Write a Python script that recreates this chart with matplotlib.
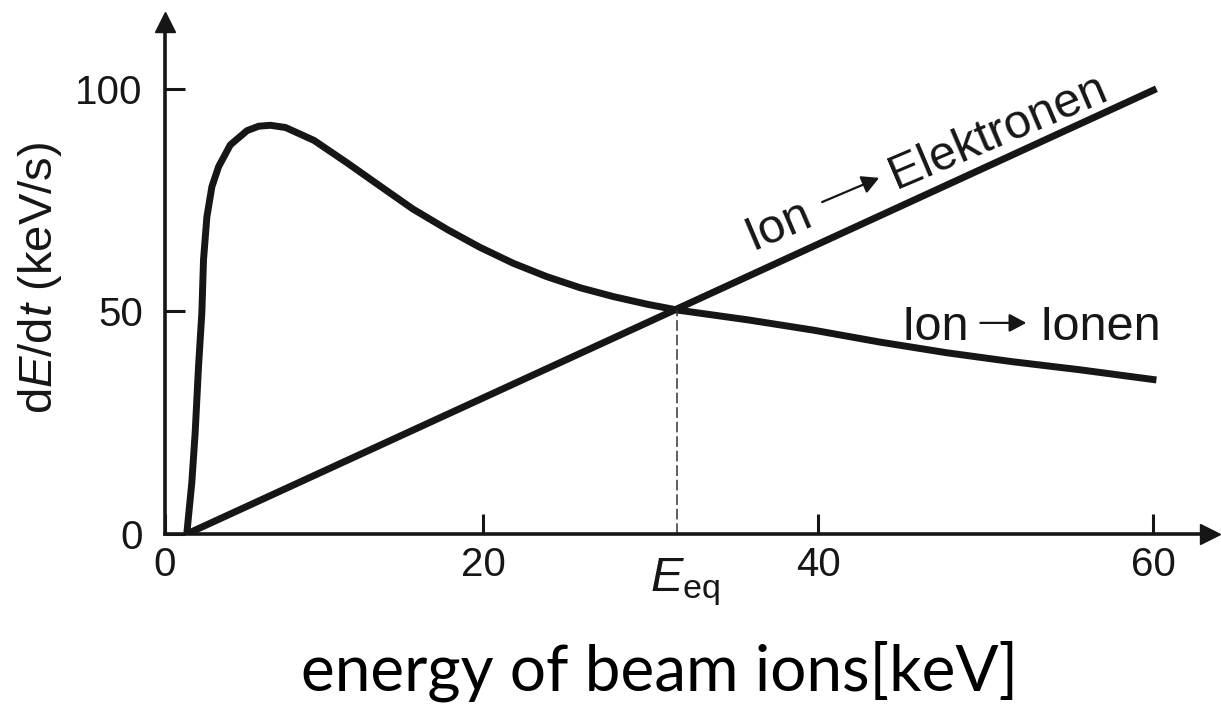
import matplotlib
matplotlib.use("Agg")
import matplotlib.pyplot as plt
import numpy as np
from matplotlib.transforms import Affine2D

plt.rcParams['font.family'] = ['Liberation Sans', 'DejaVu Sans']
plt.rcParams['mathtext.fontset'] = 'custom'
plt.rcParams['mathtext.rm'] = 'Liberation Sans'
plt.rcParams['mathtext.it'] = 'Liberation Sans:italic'

# ---- data ----
ion_ion_x = [2.3, 2.6, 2.8, 3.0, 3.2, 3.3, 3.5, 3.8, 4.2, 4.9, 5.9, 6.6, 7.3, 8.2,
             9.9, 11.9, 13.9, 15.8, 17.9, 19.8, 21.8, 23.8, 25.8, 27.8, 29.8,
             31.6, 35.8, 39.7, 43.7, 47.7, 51.6, 55.6, 60.2]
ion_ion_y = [0.0, 11.5, 22.7, 37.5, 49.7, 61.6, 71.2, 78.0, 82.5, 87.4, 90.6, 91.6, 91.8, 91.3,
             88.4, 83.3, 78.0, 73.0, 68.3, 64.4, 60.8, 57.8, 55.3, 53.3, 51.6,
             50.3, 48.1, 45.8, 43.1, 40.7, 38.7, 36.9, 34.6]
ion_el_x = [2.3, 60.2]
ion_el_y = [0.0, 100.0]
E_eq = 31.6
E_eq_y = 50.3

x_ticks = [20, 40, 60]
x_ticklabels = ["20", "40", "60"]
y_ticks = [0, 50, 100]
y_ticklabels = ["0", "50", "100"]
x_left, x_right = 1.0, 63.4
y_bottom, y_top = 0.0, 115.0

ink = '#161616'

fig = plt.figure(figsize=(12.21, 7.08), dpi=100)
ax = fig.add_axes([165/1221, (708-534)/708, (1210-165)/1221, (534-22)/708])

ax.plot(ion_ion_x, ion_ion_y, color=ink, lw=5, solid_capstyle='butt', solid_joinstyle='round')
ax.plot(ion_el_x, ion_el_y, color=ink, lw=5, solid_capstyle='butt')
ax.plot([E_eq, E_eq], [0, E_eq_y], color='#333333', lw=1.1, dashes=(7, 2.5))

ax.set_xlim(x_left, x_right)
ax.set_ylim(y_bottom, y_top)

for s in ['top', 'right']:
    ax.spines[s].set_visible(False)
for s in ['left', 'bottom']:
    ax.spines[s].set_linewidth(2.6)
    ax.spines[s].set_color(ink)

ax.set_xticks([x_left] + x_ticks)
ax.set_xticklabels(["0"] + x_ticklabels)
ax.set_yticks(y_ticks)
ax.set_yticklabels(y_ticklabels)
ax.tick_params(axis='x', direction='in', length=14.4, width=2.2, color=ink,
               labelsize=29, pad=9, labelcolor=ink)
ax.tick_params(axis='y', direction='in', length=14.4, width=2.2, color=ink,
               labelsize=29, pad=16, labelcolor=ink)

# axis arrow heads
ax.plot(0, 1, marker='^', ms=14.5, color=ink, transform=ax.transAxes, clip_on=False)
ax.plot(1, 0, marker='>', ms=14.5, color=ink, transform=ax.transAxes, clip_on=False)

# E_eq label
ax.text(E_eq + 0.45, -5.0, r'$E_{\mathrm{eq}}$', fontsize=35, ha='center', va='top', color=ink)

renderer = fig.canvas.get_renderer()


def label_with_arrow(x, y, left, right, angle, fs, gap1, alen, gap2, lift):
    th = np.deg2rad(angle)
    ux, uy = np.cos(th), np.sin(th)

    def tr(d, h=0.0):
        return ax.transData + Affine2D().translate(d * ux - h * uy, d * uy + h * ux)

    kw = dict(fontsize=fs, rotation=angle, rotation_mode='anchor', ha='left',
              va='baseline', color=ink)
    ax.text(x, y, left, transform=tr(0), **kw)
    tmp = fig.text(0, 0, left, fontsize=fs)
    w1 = tmp.get_window_extent(renderer).width
    tmp.remove()
    d0 = w1 + gap1
    d1 = d0 + alen
    ax.annotate('', xy=(x, y), xycoords=tr(d1, lift), xytext=(x, y), textcoords=tr(d0, lift),
                arrowprops=dict(arrowstyle='-|>,head_length=0.45,head_width=0.24', lw=1.6,
                                color=ink, shrinkA=0, shrinkB=0, mutation_scale=23))
    ax.text(x, y, right, transform=tr(d1 + gap2), **kw)


label_with_arrow(45.0, 43.6, 'Ion', 'Ionen', 0, 35, 11, 46, 13, 17)
label_with_arrow(36.1, 63.8, 'Ion', 'Elektronen', 23, 35, 15, 62, 11, 17)

fig.text(40/1221, 1 - 278/708, r'd$E$/d$t$ (keV/s)', fontsize=34, rotation=90,
         ha='center', va='center', color=ink)
fig.text(660/1221, 1 - 690/708, 'energy of beam ions[keV]', fontsize=46,
         family=['Lato', 'DejaVu Sans'], ha='center', va='baseline', color='black')

fig.savefig('out.png', dpi=100)
